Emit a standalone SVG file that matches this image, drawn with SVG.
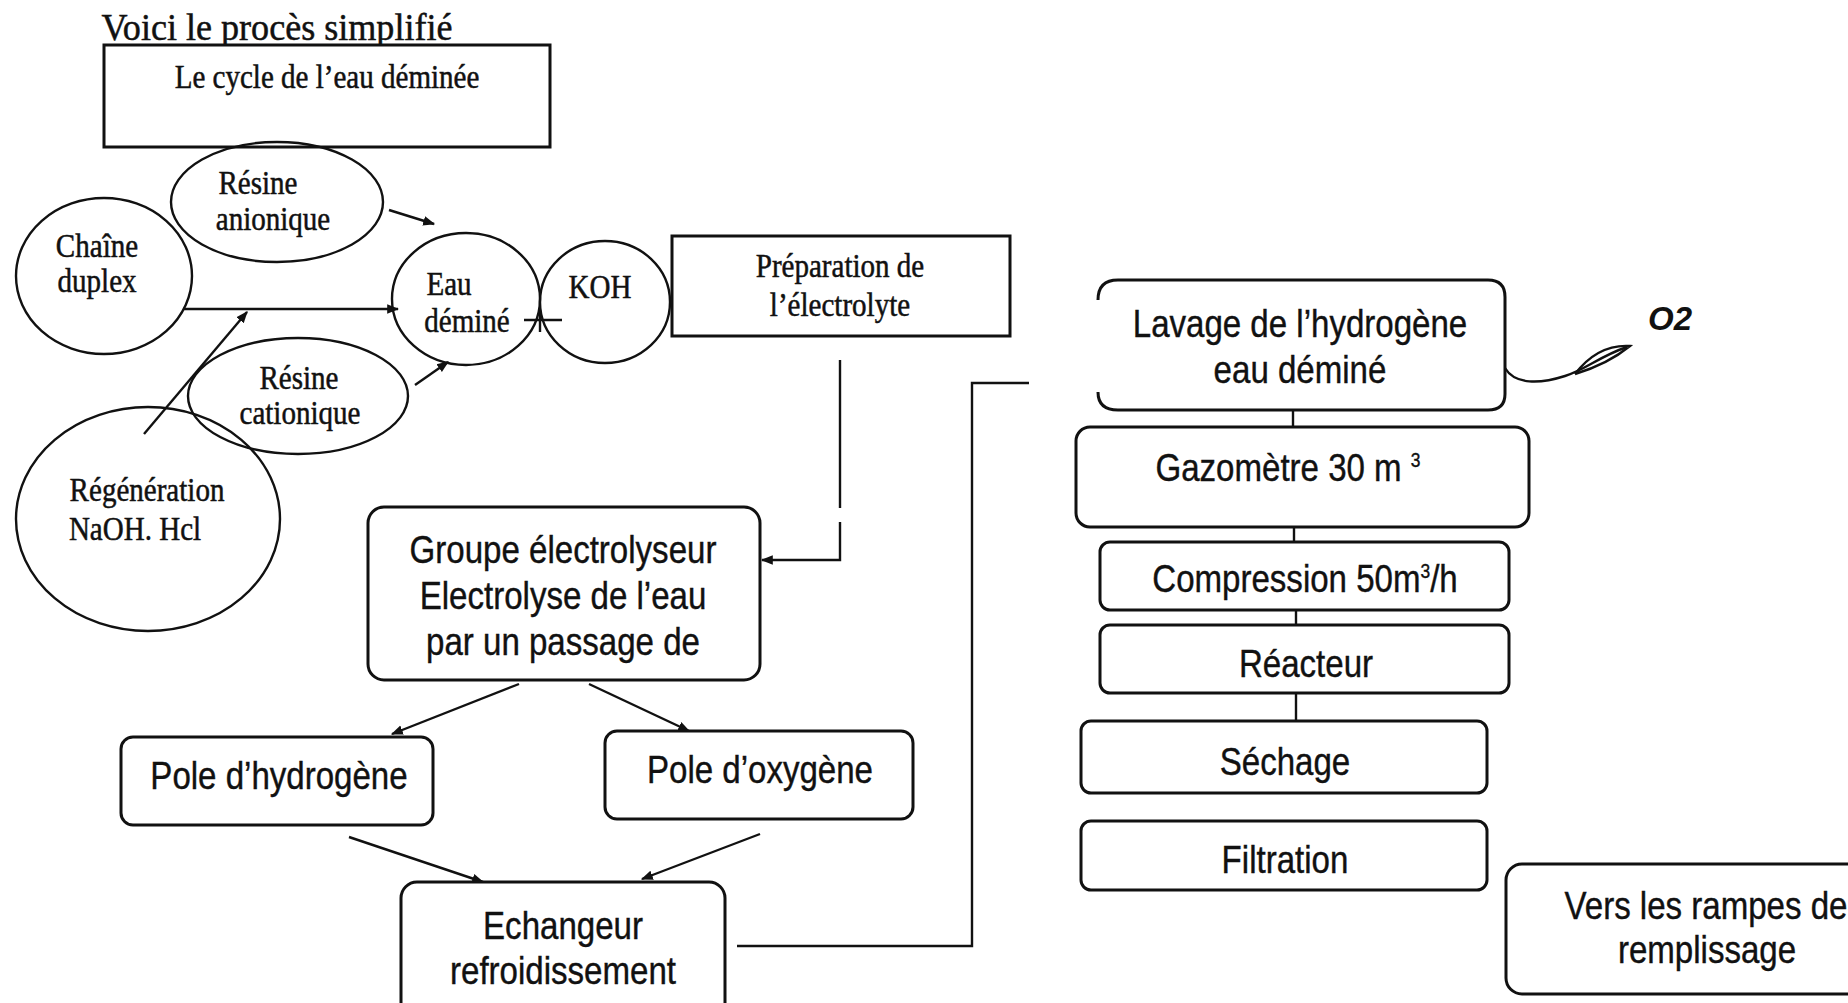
<svg xmlns="http://www.w3.org/2000/svg" width="1848" height="1003" viewBox="0 0 1848 1003">
<defs>
<style>
.bx{fill:#fff;stroke:#111;stroke-width:3}
.el{fill:none;stroke:#111;stroke-width:2.4}
.ln{fill:none;stroke:#111;stroke-width:2.4}
.s{font-family:"Liberation Serif","Times New Roman",serif;font-size:33px;fill:#111;stroke:#111;stroke-width:0.5;text-anchor:middle;transform:scaleX(0.88);transform-box:fill-box;transform-origin:center}
.t{font-family:"Liberation Sans",Arial,sans-serif;font-size:38px;fill:#111;stroke:#111;stroke-width:0.4;text-anchor:middle;transform:scaleX(0.87);transform-box:fill-box;transform-origin:center}
</style>
<marker id="ah" viewBox="0 0 10 10" refX="9" refY="5" markerWidth="12" markerHeight="12" markerUnits="userSpaceOnUse" orient="auto">
<path d="M0,1 L10,5 L0,9 z" fill="#111"/>
</marker>
</defs>
<rect width="1848" height="1003" fill="#fff"/>

<g id="title">
<text x="277" y="40" class="s" style="font-size:38px;transform:scaleX(0.95)">Voici le procès simplifié</text>
<line x1="106" y1="45" x2="446" y2="45" stroke="#111" stroke-width="2.2"/>
</g>

<g id="connectors">
<line class="ln" x1="389" y1="210" x2="434" y2="224" marker-end="url(#ah)"/>
<line class="ln" x1="183" y1="309" x2="398" y2="309" marker-end="url(#ah)"/>
<line class="ln" x1="144" y1="434" x2="247" y2="312" marker-end="url(#ah)"/>
<line class="ln" x1="415" y1="385" x2="448" y2="362" marker-end="url(#ah)"/>
<line class="ln" x1="524" y1="320" x2="562" y2="320"/>
<line class="ln" x1="540" y1="310" x2="540" y2="332"/>
<polyline class="ln" points="840,360 840,508"/>
<polyline class="ln" points="840,522 840,560 762,560" marker-end="url(#ah)"/>
<line class="ln" x1="519" y1="684" x2="392" y2="734" marker-end="url(#ah)"/>
<line class="ln" x1="589" y1="684" x2="689" y2="731" marker-end="url(#ah)"/>
<line class="ln" x1="349" y1="837" x2="483" y2="882" marker-end="url(#ah)"/>
<line class="ln" x1="760" y1="834" x2="642" y2="879" marker-end="url(#ah)"/>
<polyline class="ln" points="737,946 972,946 972,383 1029,383"/>
<line class="ln" x1="1293" y1="410" x2="1293" y2="427"/>
<line class="ln" x1="1294" y1="527" x2="1294" y2="542"/>
<line class="ln" x1="1296" y1="610" x2="1296" y2="625"/>
<line class="ln" x1="1296" y1="693" x2="1296" y2="721"/>
<path class="ln" d="M1505,368 C1515,385 1540,384 1565,376 C1585,370 1600,356 1627,347"/>
<path class="ln" d="M1575,374 Q1598,344 1630,346 Q1608,364 1575,374"/>
</g>

<g id="cycle-box">
<rect class="bx" x="104" y="45" width="446" height="102"/>
<text x="327" y="88" class="s">Le cycle de l’eau déminée</text>
</g>

<g id="resine-anionique">
<ellipse class="el" cx="277" cy="202" rx="106" ry="60"/>
<text x="258" y="194" class="s">Résine</text>
<text x="273" y="230" class="s">anionique</text>
</g>

<g id="chaine-duplex">
<ellipse class="el" cx="104" cy="276" rx="88" ry="78"/>
<text x="97" y="257" class="s">Chaîne</text>
<text x="97" y="292" class="s">duplex</text>
</g>

<g id="eau-demine">
<ellipse class="el" cx="466" cy="299" rx="74" ry="66"/>
<text x="449" y="295" class="s">Eau</text>
<text x="467" y="332" class="s">déminé</text>
</g>

<g id="koh">
<ellipse class="el" cx="605" cy="302" rx="65" ry="61"/>
<text x="600" y="298" class="s">KOH</text>
</g>

<g id="resine-cationique">
<ellipse class="el" cx="298" cy="396" rx="110" ry="58"/>
<text x="299" y="389" class="s">Résine</text>
<text x="300" y="424" class="s">cationique</text>
</g>

<g id="regeneration">
<ellipse class="el" cx="148" cy="519" rx="132" ry="112"/>
<text x="147" y="501" class="s">Régénération</text>
<text x="135" y="540" class="s">NaOH. Hcl</text>
</g>

<g id="preparation">
<rect class="bx" x="672" y="236" width="338" height="100"/>
<text x="840" y="277" class="s">Préparation de</text>
<text x="840" y="316" class="s">l’électrolyte</text>
</g>

<g id="groupe">
<rect class="bx" x="368" y="507" width="392" height="173" rx="16"/>
<text x="563" y="563" class="t">Groupe électrolyseur</text>
<text x="563" y="609" class="t">Electrolyse de l’eau</text>
<text x="563" y="655" class="t">par un passage de</text>
</g>

<g id="pole-h">
<rect class="bx" x="121" y="737" width="312" height="88" rx="12"/>
<text x="279" y="789" class="t">Pole d’hydrogène</text>
</g>

<g id="pole-o">
<rect class="bx" x="605" y="731" width="308" height="88" rx="12"/>
<text x="760" y="783" class="t">Pole d’oxygène</text>
</g>

<g id="echangeur">
<rect class="bx" x="401" y="882" width="324" height="140" rx="16"/>
<text x="563" y="939" class="t">Echangeur</text>
<text x="563" y="984" class="t">refroidissement</text>
</g>

<g id="lavage">
<path class="ln" style="stroke-width:3" d="M1098,300 Q1098,280 1118,280 L1488,280 Q1505,280 1505,297 L1505,394 Q1505,410 1488,410 L1118,410 Q1098,410 1098,392"/>
<text x="1300" y="337" class="t">Lavage de l’hydrogène</text>
<text x="1300" y="383" class="t">eau déminé</text>
</g>

<g id="o2">
<text x="1648" y="330" style="font-family:'Liberation Sans',Arial,sans-serif;font-size:33px;font-weight:bold;font-style:italic;fill:#111">O2</text>
</g>

<g id="gazometre">
<rect class="bx" x="1076" y="427" width="453" height="100" rx="14"/>
<text x="1288" y="481" class="t">Gazomètre 30 m <tspan dy="-14" style="font-size:20px">3</tspan></text>
</g>

<g id="compression">
<rect class="bx" x="1100" y="542" width="409" height="68" rx="10"/>
<text x="1305" y="592" class="t">Compression 50m<tspan dy="-14" style="font-size:20px">3</tspan><tspan dy="14">/h</tspan></text>
</g>

<g id="reacteur">
<rect class="bx" x="1100" y="625" width="409" height="68" rx="10"/>
<text x="1306" y="677" class="t">Réacteur</text>
</g>

<g id="sechage">
<rect class="bx" x="1081" y="721" width="406" height="72" rx="10"/>
<text x="1285" y="775" class="t">Séchage</text>
</g>

<g id="filtration">
<rect class="bx" x="1081" y="821" width="406" height="69" rx="10"/>
<text x="1285" y="873" class="t">Filtration</text>
</g>

<g id="vers-rampes">
<rect class="bx" x="1506" y="864" width="380" height="130" rx="16"/>
<text x="1706" y="919" class="t">Vers les rampes de</text>
<text x="1707" y="963" class="t">remplissage</text>
</g>
</svg>
